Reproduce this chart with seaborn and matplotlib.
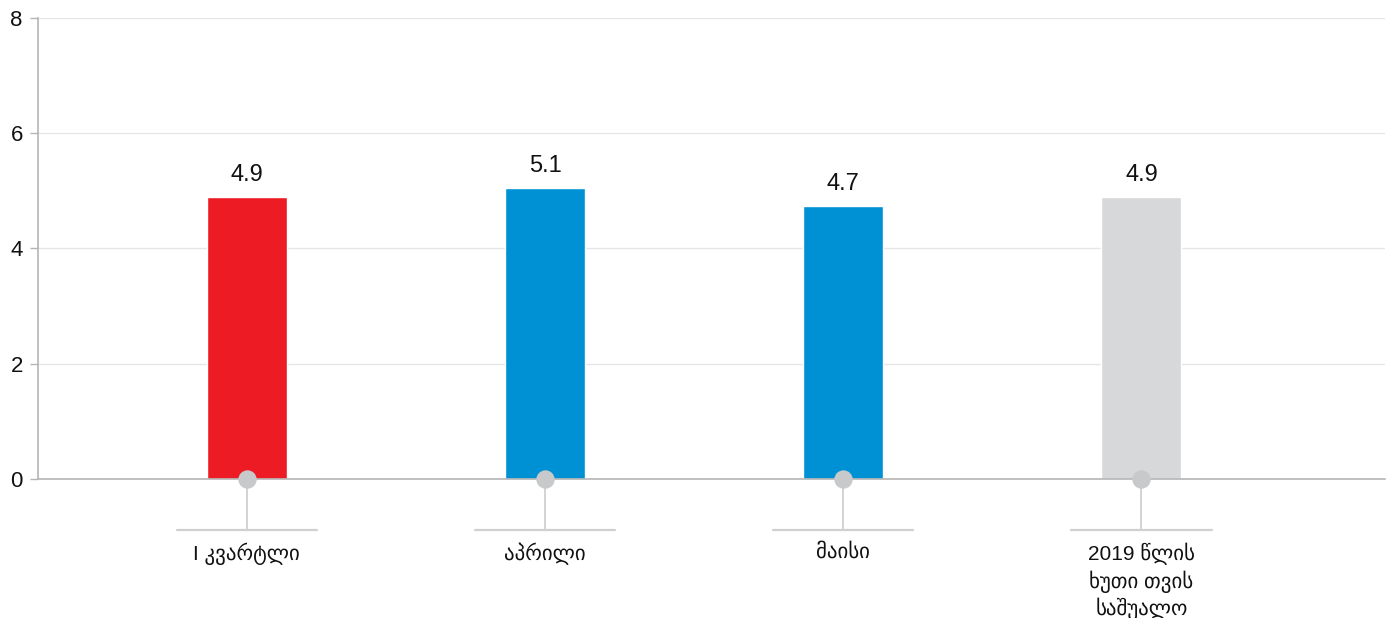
import matplotlib
matplotlib.use("Agg")
import matplotlib.pyplot as plt
import matplotlib.transforms as mtransforms
import pandas as pd
import seaborn as sns

# Chart data
categories = ["I კვარტლი", "აპრილი", "მაისი", "2019 წლის\nხუთი თვის\nსაშუალო"]
values = [4.9, 5.05, 4.73, 4.9]
value_labels = ["4.9", "5.1", "4.7", "4.9"]
bar_colors = ["#ED1C24", "#0091D5", "#0091D5", "#D7D8DA"]

df = pd.DataFrame({"category": categories, "value": values})

sns.set_theme(style="white")
plt.rcParams["font.family"] = ["Liberation Sans", "DejaVu Sans"]

fig = plt.figure(figsize=(13.89, 6.18), dpi=100)
ax = fig.add_axes([0.0274, 0.2249, 0.9700, 0.7460])

sns.barplot(data=df, x="category", y="value", hue="category",
            palette=bar_colors, width=0.268, dodge=False, legend=False,
            saturation=1, ax=ax)

ax.set_ylim(0, 8)
ax.set_xlim(-0.70, 3.818)
ax.set_yticks([0, 2, 4, 6, 8])
ax.set_yticklabels(["0", "2", "4", "6", "8"], fontsize=16, color="#111111")
ax.yaxis.grid(True, color="#e6e6e6", linewidth=1)
ax.set_axisbelow(True)
ax.tick_params(axis="y", length=6, width=1, color="#b5b5b5", pad=5, left=True)
ax.set_xticks([])
ax.set_xlabel("")
ax.set_ylabel("")

for side in ["top", "right"]:
    ax.spines[side].set_visible(False)
ax.spines["left"].set_color("#b5b5b5")
ax.spines["bottom"].set_color("#b5b5b5")
ax.spines["left"].set_linewidth(1.2)
ax.spines["bottom"].set_linewidth(1.2)

# value labels above bars
for i, (v, lab) in enumerate(zip(values, value_labels)):
    ax.annotate(lab, (i, v), xytext=(0, 8), textcoords="offset points",
                ha="center", va="bottom", fontsize=17, color="#111111")

# category markers below the axis
trans = mtransforms.blended_transform_factory(ax.transData, ax.transAxes)
for i, cat in enumerate(categories):
    ax.plot([i, i], [0, -0.111], transform=trans, color="#d0d0d0",
            linewidth=1.3, clip_on=False, zorder=3)
    ax.plot([i - 0.235, i + 0.235], [-0.111, -0.111], transform=trans,
            color="#d0d0d0", linewidth=1.6, clip_on=False, zorder=3)
    ax.scatter([i], [0], s=175, color="#c8c9cb", clip_on=False, zorder=5,
               linewidths=0)
    ax.text(i, -0.138, cat, transform=trans, ha="center", va="top",
            fontsize=15, color="#111111", linespacing=1.3)

fig.savefig("out.png", dpi=100)
